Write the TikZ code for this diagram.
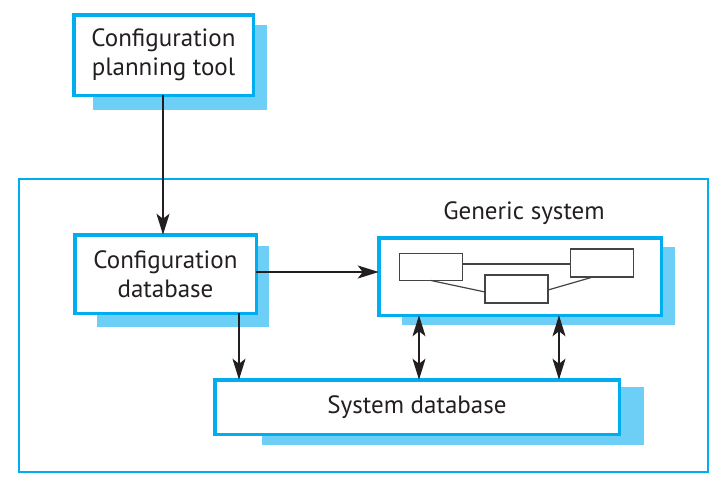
\documentclass[tikz,border=0pt]{standalone}
\usepackage{fontspec}
\setmainfont{PT Sans}
\usetikzlibrary{arrows.meta,calc}
\definecolor{bordercyan}{HTML}{00AEEF}
\definecolor{shadowcyan}{HTML}{6DCFF6}
\definecolor{txt}{HTML}{231F20}
\definecolor{linegray}{HTML}{444444}
\tikzset{
  mainbox/.style={draw=bordercyan, line width=3.5pt, fill=white, rectangle, inner sep=0pt, outer sep=0pt, align=center, font=\fontsize{25}{29}\selectfont, text=txt},
  smallbox/.style={draw=linegray, line width=1.2pt, fill=white, rectangle, inner sep=0pt, outer sep=0pt, minimum width=63pt, minimum height=27pt},
  innerline/.style={draw=linegray, line width=1.2pt},
  conn/.style={draw=txt, line width=1.3pt},
  tip/.style={-{Stealth[length=21pt,width=13pt,inset=5pt]}},
  dtip/.style={{Stealth[length=21pt,width=13pt,inset=5pt]}-{Stealth[length=21pt,width=13pt,inset=5pt]}},
}
\begin{document}
\begin{tikzpicture}[x=1pt,y=-1pt]
\useasboundingbox (0,0) rectangle (724,488);
% outer frame
\node[draw=bordercyan, line width=2pt, rectangle, inner sep=0pt, outer sep=0pt, minimum width=689pt, minimum height=293pt] (outer) at (363.5,325.5) {};
% shadows
\fill[shadowcyan] (93,25) rectangle (267,110);
\fill[shadowcyan] (97,246) rectangle (269,327);
\fill[shadowcyan] (402,247) rectangle (675,325);
\fill[shadowcyan] (262,387) rectangle (644,445);
% main boxes
\node[mainbox, minimum width=179.5pt, minimum height=80.5pt] (plan) at (163.5,55) {Configuration\\planning tool};
\node[mainbox, minimum width=181.5pt, minimum height=78.5pt] (cdb) at (165.5,274) {Configuration\\database};
\node[mainbox, minimum width=282.5pt, minimum height=77.5pt] (gen) at (520,276.5) {};
\node[mainbox, minimum width=404.5pt, minimum height=54.5pt] (sdb) at (417,407) {System database};
\node[font=\fontsize{25}{29}\selectfont, text=txt, inner sep=0pt] (genlabel) at (524,213) {Generic system};
% small boxes in generic system
\node[smallbox] (s1) at (431,267) {};
\node[smallbox, minimum height=28pt] (s2) at (602,263) {};
\node[smallbox, minimum height=28pt] (s3) at (516.5,289) {};
\draw[innerline] (s1.east |- 0,264) -- (s2.west |- 0,264);
\draw[innerline] (s1.south) -- (s3.west |- 0,292);
\draw[innerline] (s3.east |- 0,290) -- ([xshift=-9pt]s2.south);
% connectors
\draw[conn, tip] (plan.south -| 163,0) -- (cdb.north -| 163,0);
\draw[conn, tip] (cdb.east |- 0,272) -- (gen.west |- 0,272);
\draw[conn, tip] (cdb.south -| 239,0) -- (sdb.north -| 239,0);
\draw[conn, dtip] (gen.south -| 419,0) -- (sdb.north -| 419,0);
\draw[conn, dtip] (gen.south -| 559,0) -- (sdb.north -| 559,0);
\end{tikzpicture}
\end{document}
